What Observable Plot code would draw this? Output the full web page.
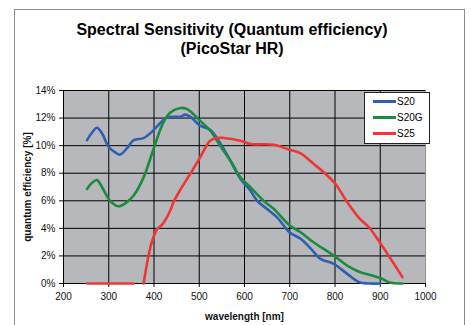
<!DOCTYPE html>
<html>
<head>
<meta charset="utf-8">
<script src="https://cdn.jsdelivr.net/npm/d3@7"></script>
<script src="https://cdn.jsdelivr.net/npm/@observablehq/plot@0.6"></script>
<style>
  body { margin: 0; background: #fff; font-family: "Liberation Sans", Arial, sans-serif; }
  #wrap { position: relative; width: 471px; height: 325px; overflow: hidden; background: #fff; }
  #frame { position: absolute; left: 14px; top: 9px; width: 451px; height: 340px; border: 1px solid #8c8c8c; box-sizing: border-box; }
  #title { position: absolute; left: 0; top: 20px; width: 464px; text-align: center; font-weight: bold; font-size: 16px; line-height: 19px; color: #000; }
  #chart { position: absolute; left: 0; top: 70px; }
  #chart svg { font-family: "Liberation Sans", Arial, sans-serif; }
  #chart [aria-label="y-axis label"], #chart [aria-label="x-axis label"] { font-weight: bold; font-size: 10px; }
  #legend { position: absolute; left: 364px; top: 92px; width: 66px; height: 52px; border: 1px solid #222; background: #fff; box-sizing: border-box; font-size: 10px; }
  .item { position: absolute; left: 8px; height: 12px; line-height: 12px; }
  .item span.sw { display: inline-block; width: 23px; height: 0; border-top: 3px solid; vertical-align: middle; margin-right: 1px; position: relative; top: -1px; }
</style>
</head>
<body>
<div id="wrap">
  <div id="frame"></div>
  <div id="title">Spectral Sensitivity (Quantum efficiency)<br>(PicoStar HR)</div>
  <div id="chart"></div>
  <div id="legend"></div>
</div>
<script>
const seriesNames = ["S20", "S20G", "S25"];
const seriesColors = ["#2e5fb5", "#1d8b3e", "#f03535"];

const s20Wavelength = [252, 262, 274, 285, 300, 315, 325, 340, 355, 377, 395, 407, 429, 458, 469, 480, 502, 524, 546, 569, 591, 613, 628, 650, 672, 700, 724, 746, 768, 797, 827, 853, 875, 900];
const s20Qe = [10.4, 10.9, 11.3, 10.9, 9.9, 9.5, 9.35, 9.8, 10.4, 10.55, 11.0, 11.4, 12.05, 12.1, 12.25, 12.1, 11.45, 11.15, 10.2, 8.9, 7.6, 6.74, 6.0, 5.4, 4.8, 3.7, 3.24, 2.55, 1.79, 1.43, 0.7, 0.1, 0.0, 0.0];

const s20gWavelength = [252, 263, 274, 285, 303, 322, 340, 355, 377, 399, 421, 436, 458, 470, 480, 502, 524, 546, 569, 591, 613, 642, 665, 700, 724, 750, 797, 827, 856, 882, 904, 923, 949];
const s20gQe = [6.86, 7.3, 7.5, 7.0, 6.0, 5.6, 5.9, 6.38, 7.7, 9.76, 11.7, 12.4, 12.73, 12.7, 12.5, 11.8, 11.1, 10.0, 8.9, 7.7, 6.98, 6.0, 5.4, 4.2, 3.72, 3.05, 2.03, 1.3, 0.82, 0.58, 0.34, 0.05, 0.0];

const s25Wavelength = [252, 355, 366, 377, 388, 396, 407, 418, 436, 443, 460, 480, 502, 524, 539, 554, 591, 613, 665, 700, 724, 753, 775, 801, 827, 853, 875, 901, 923, 949];
const s25Qe = [0, 0, null, 0, 2.03, 3.1, 3.96, 4.27, 5.3, 5.9, 6.9, 7.95, 9.15, 10.36, 10.56, 10.56, 10.36, 10.12, 10.07, 9.7, 9.44, 8.67, 8.07, 7.22, 5.9, 4.76, 4.08, 2.88, 1.79, 0.46];

const xTicks = [200, 300, 400, 500, 600, 700, 800, 900, 1000];
const yTicks = [0, 2, 4, 6, 8, 10, 12, 14];

const data = [];
[[s20Wavelength, s20Qe], [s20gWavelength, s20gQe], [s25Wavelength, s25Qe]].forEach(([xs, ys], i) => {
  xs.forEach((x, j) => data.push({series: seriesNames[i], wl: x, qe: ys[j]}));
});

const chart = Plot.plot({
  width: 471,
  height: 255,
  marginTop: 20,
  marginBottom: 42,
  marginLeft: 63,
  marginRight: 46,
  style: {fontSize: "10px", color: "#111", background: "transparent"},
  x: {domain: [200, 1000], ticks: xTicks},
  y: {domain: [0, 14], ticks: yTicks},
  color: {domain: seriesNames, range: seriesColors},
  marks: [
    Plot.frame({fill: "#b6b8bb", stroke: "#8f9194"}),
    Plot.gridX(xTicks.slice(0, -1), {stroke: "#000", strokeOpacity: 1, strokeWidth: 1}),
    Plot.gridY(yTicks, {stroke: "#000", strokeOpacity: 1, strokeWidth: 1}),
    Plot.axisX({ticks: xTicks, tickSize: 4, tickPadding: 5, tickFormat: d => String(d), label: "wavelength [nm]", labelAnchor: "center", labelArrow: "none", labelOffset: 36}),
    Plot.axisY({ticks: yTicks, tickSize: 4, tickPadding: 4, tickFormat: d => d + "%", label: "quantum efficiency [%]", labelAnchor: "center", labelArrow: "none", labelOffset: 40}),
    Plot.ruleX([200], {stroke: "#000"}),
    Plot.ruleY([0], {stroke: "#000"}),
    Plot.line(data, {x: "wl", y: "qe", z: "series", stroke: "series", strokeWidth: 2.6, curve: "catmull-rom"})
  ]
});
document.getElementById("chart").appendChild(chart);

const legend = document.getElementById("legend");
seriesNames.forEach((name, i) => {
  const item = document.createElement("div");
  item.className = "item";
  item.style.top = (3 + i * 16) + "px";
  const sw = document.createElement("span");
  sw.className = "sw";
  sw.style.borderTopColor = seriesColors[i];
  item.appendChild(sw);
  item.appendChild(document.createTextNode(name));
  legend.appendChild(item);
});
</script>
</body>
</html>
